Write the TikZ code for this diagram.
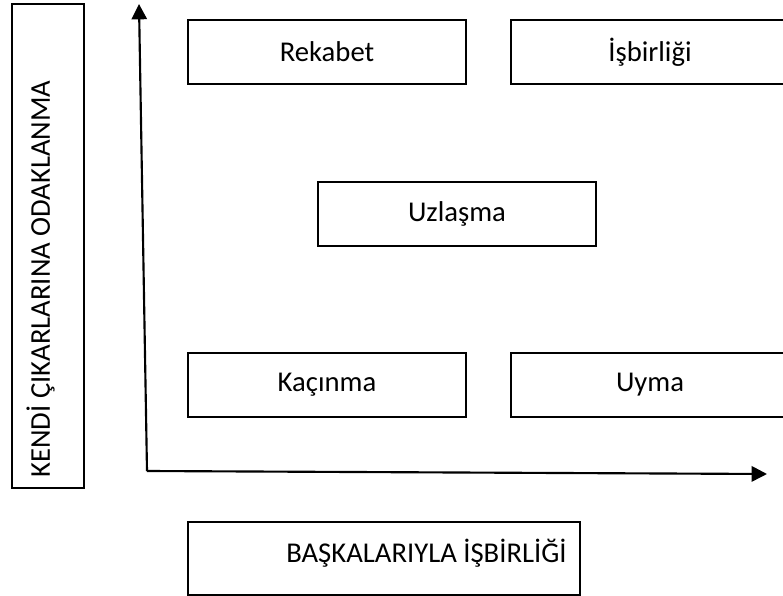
\documentclass[tikz,border=0pt]{standalone}
\usepackage{fontspec}
\setmainfont{Carlito}
\usetikzlibrary{arrows.meta}
\begin{document}
\begin{tikzpicture}[x=0.75pt,y=-0.75pt,
  lbl/.style={inner sep=0pt,font=\fontsize{21.5}{25}\selectfont},
  box/.style={draw=black,line width=1.1pt,inner sep=0pt,font=\fontsize{21.5}{25}\selectfont},
  quad/.style={box,minimum width=208.5pt,minimum height=48pt},
  axis/.style={line width=1.6pt,-{Triangle[length=11.5pt,width=11.5pt]}}]
\useasboundingbox (0,0) rectangle (783,596);
\node[quad] (rekabet) at (327,52) {Rekabet};
\node[quad] (isbirligi) at (650,52) {İşbirliği};
\node[quad] (uzlasma) at (457,214) {Uzlaşma};
\node[quad] (kacinma) at (327,385) {Kaçınma};
\node[quad] (uyma) at (650,385) {Uyma};
\node[box,minimum width=294pt,minimum height=55pt] (baska) at (384,558.5) {};
\node[lbl,anchor=base west] (baskatext) at (286,562) {BAŞKALARIYLA İŞBİRLİĞİ};
\node[box,minimum width=54pt,minimum height=363pt] (kendi) at (48,246) {};
\node[lbl,anchor=base west,rotate=90] (kenditext) at (50,478) {KENDİ ÇIKARLARINA ODAKLANMA};
\coordinate (origin) at (147,471);
\coordinate (ytip) at (139,4);
\coordinate (xtip) at (767,474);
\draw[axis] (origin) -- (ytip);
\draw[axis] (origin) -- (xtip);
\end{tikzpicture}
\end{document}
